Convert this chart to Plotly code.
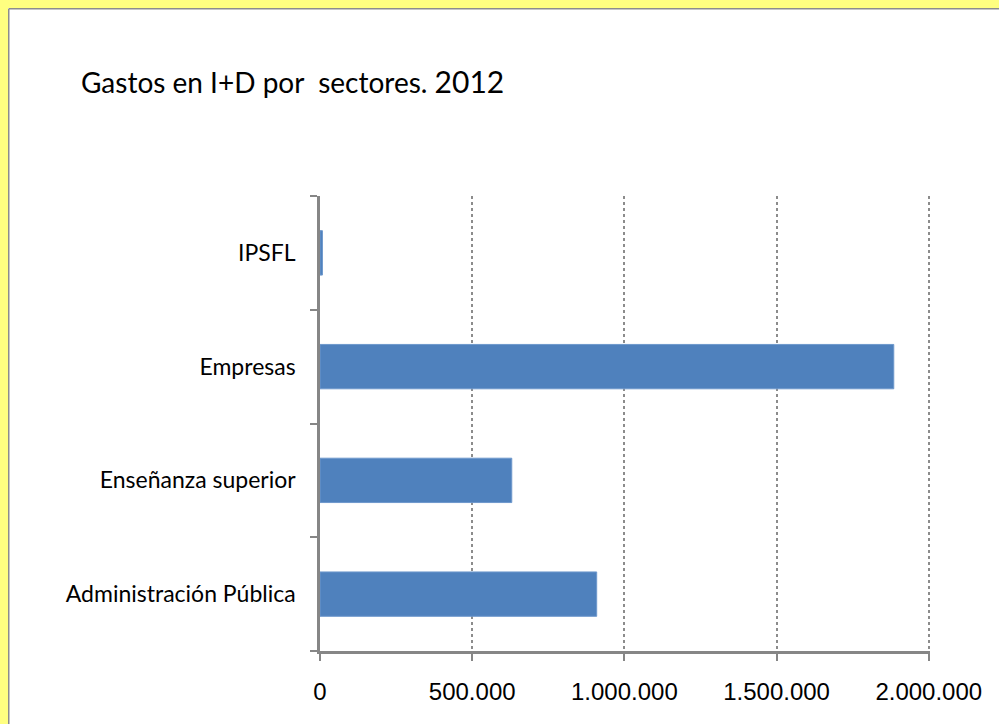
import plotly.graph_objects as go

# Gasto en I+D por sector de ejecución, 2012 (miles de euros)
sectores = ["Administración Pública", "Enseñanza superior", "Empresas", "IPSFL"]
gasto = [909000, 630000, 1885000, 8000]
ticks_x = [0, 500000, 1000000, 1500000, 2000000]
ticks_x_txt = ["0", "500.000", "1.000.000", "1.500.000", "2.000.000"]
x_max = 2004000

W, H = 999, 724
ML, MR, MT, MB = 320, 69, 196, 73
PW, PH = W - ML - MR, H - MT - MB


def px_x(p):
    return (p - ML) / PW


def px_y(p):
    return (H - MB - p) / PH


YELLOW = "#FFFF80"
BORDER = "#8C8C8C"

fig = go.Figure(
    go.Bar(
        y=sectores,
        x=gasto,
        orientation="h",
        marker=dict(color="#4F81BD", line=dict(color="#6E98CC", width=1)),
        width=0.39,
    )
)

frame = [
    # yellow strip along the top edge
    dict(type="rect", xref="paper", yref="paper", layer="below",
         x0=px_x(-5), x1=px_x(W + 5), y0=px_y(8), y1=px_y(-5),
         fillcolor=YELLOW, line=dict(width=0)),
    # yellow strip along the left edge
    dict(type="rect", xref="paper", yref="paper", layer="below",
         x0=px_x(-5), x1=px_x(8), y0=px_y(H + 5), y1=px_y(-5),
         fillcolor=YELLOW, line=dict(width=0)),
    # grey chart border
    dict(type="line", xref="paper", yref="paper", layer="below",
         x0=px_x(8.75), x1=px_x(W + 5), y0=px_y(8.75), y1=px_y(8.75),
         line=dict(color=BORDER, width=1.5)),
    dict(type="line", xref="paper", yref="paper", layer="below",
         x0=px_x(8.75), x1=px_x(8.75), y0=px_y(8.75), y1=px_y(H + 5),
         line=dict(color=BORDER, width=1.5)),
]

fig.update_layout(
    width=W,
    height=H,
    margin=dict(l=ML, r=MR, t=MT, b=MB, pad=0),
    paper_bgcolor="white",
    plot_bgcolor="white",
    showlegend=False,
    shapes=frame,
    annotations=[
        dict(
            xref="paper", yref="paper", x=px_x(79), y=px_y(81),
            xanchor="left", yanchor="middle", showarrow=False,
            text="Gastos en I+D por\u00a0 sectores. <span style='font-size:30px'>2012</span>",
            font=dict(family="Lato", size=28, color="black"),
        )
    ],
)

fig.update_xaxes(
    range=[0, x_max],
    tickvals=ticks_x,
    ticktext=ticks_x_txt,
    tickfont=dict(family="Liberation Sans", size=24, color="black"),
    showgrid=True,
    gridcolor="#8C8C8C",
    griddash="dot",
    gridwidth=1.5,
    showline=True,
    linecolor="#868686",
    linewidth=2.5,
    ticks="outside",
    ticklen=7,
    tickcolor="#868686",
    tickwidth=2,
    zeroline=False,
    ticklabelstandoff=10,
    fixedrange=True,
)

fig.update_yaxes(
    categoryorder="array",
    categoryarray=sectores,
    tickfont=dict(family="Lato", size=23, color="black"),
    showgrid=False,
    showline=True,
    linecolor="#868686",
    linewidth=2.5,
    ticks="outside",
    tickson="boundaries",
    ticklen=7,
    tickcolor="#868686",
    tickwidth=2,
    ticklabelstandoff=17,
    fixedrange=True,
)

fig.write_html("out.html")
